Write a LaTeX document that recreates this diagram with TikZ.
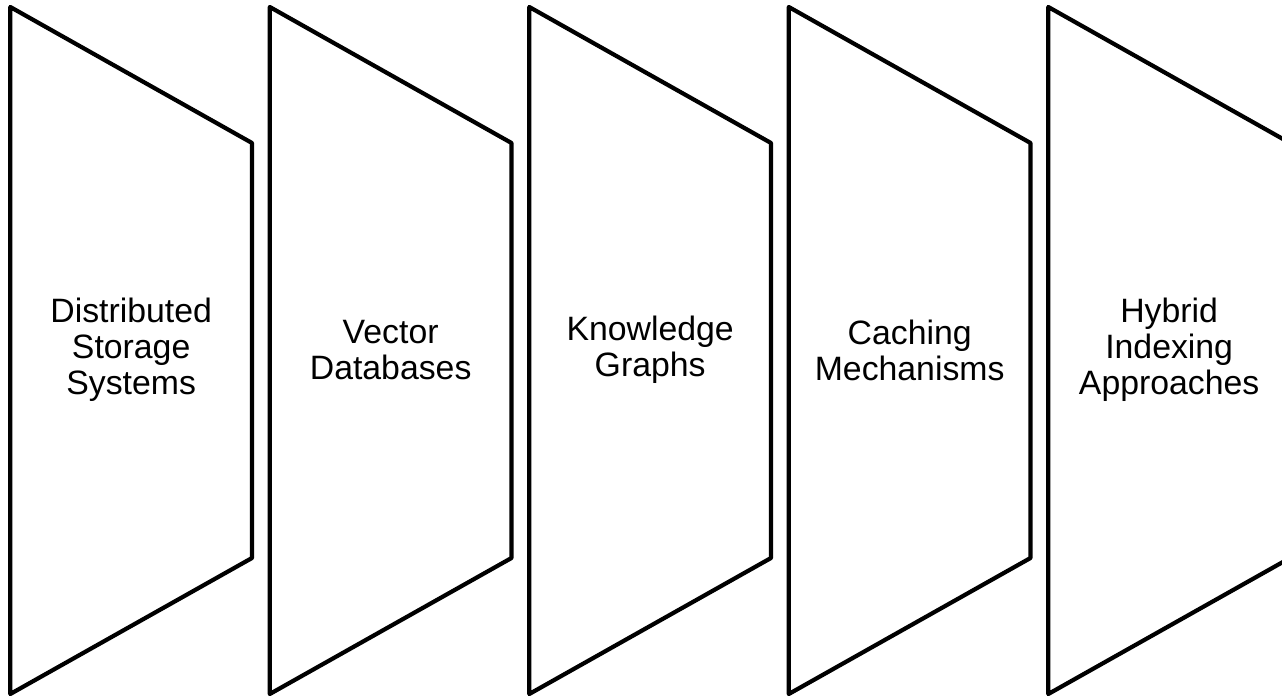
\documentclass[tikz,border=0pt]{standalone}
\usepackage{fontspec}
\setmainfont{Liberation Sans}
\begin{document}
\begin{tikzpicture}[x=1pt,y=1pt,
  panel/.style={draw=black, line width=4.2pt, line join=round, fill=white},
  lbl/.style={align=center, font=\fontsize{33.8}{36}\selectfont, inner sep=0pt}]
\useasboundingbox (0,0) rectangle (1282,699);
\clip (0,0) rectangle (1282,699);
\foreach \i/\t [count=\k] in {0/{Distributed\\Storage\\Systems},1/{Vector\\Databases},2/{Knowledge\\Graphs},3/{Caching\\Mechanisms},4/{Hybrid\\Indexing\\Approaches}}{
  \pgfmathsetmacro{\xl}{10.3+259.5*\i}
  \pgfmathsetmacro{\xr}{\xl+241.7}
  \pgfmathsetmacro{\xc}{(\xl+\xr)/2}
  \draw[panel] (\xl,692) -- (\xr,556) -- (\xr,141) -- (\xl,5) -- cycle;
  \node[lbl] (t\k) at (\xc,349) {\t};
}
\end{tikzpicture}
\end{document}
